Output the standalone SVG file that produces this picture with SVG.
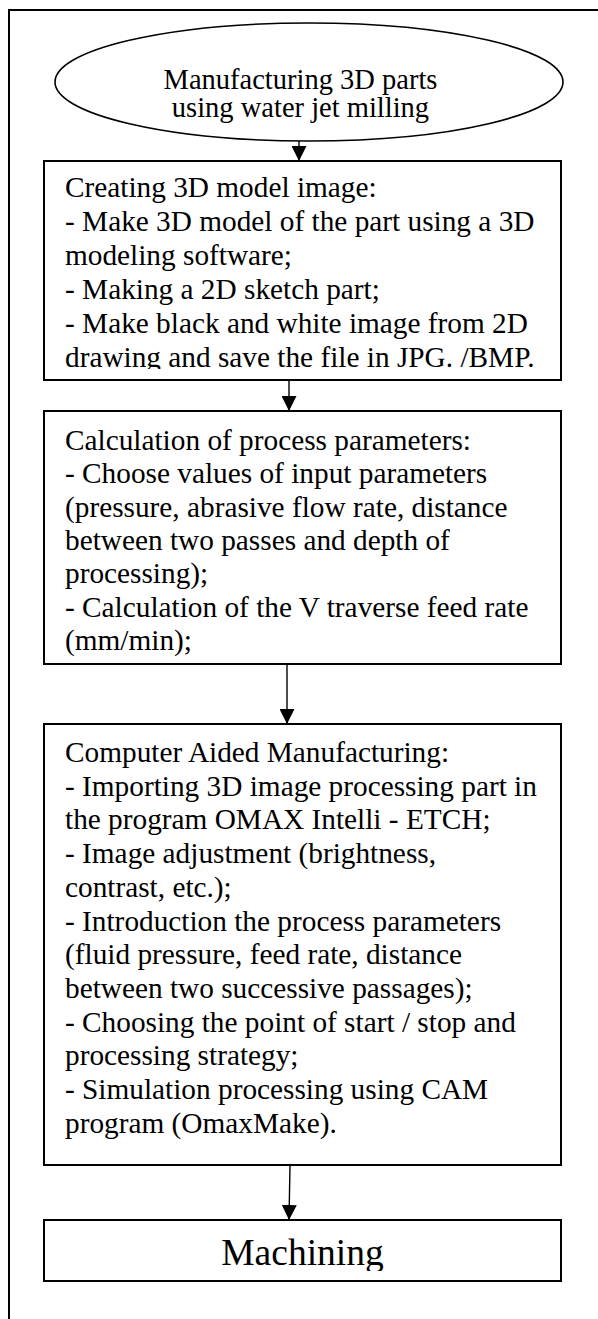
<svg xmlns="http://www.w3.org/2000/svg" width="598" height="1319" viewBox="0 0 598 1319">
<style>
text{font-family:'Liberation Serif','Times New Roman',Times,serif;font-size:29.3px;fill:#000}
.ell{font-size:28.5px}
.big{font-size:37.5px}
.box{fill:#fff;stroke:#000;stroke-width:2}
.conn{stroke:#000;stroke-width:1.4;fill:none}
</style>
<defs>
<marker id="ah" markerUnits="userSpaceOnUse" markerWidth="15" markerHeight="15" refX="15" refY="7.5" orient="auto">
<path d="M0,0 L15,7.5 L0,15 z" fill="#000"/>
</marker>
<clipPath id="c1"><rect x="44" y="161" width="517" height="208"/></clipPath>
<clipPath id="c4"><rect x="44" y="1220" width="517" height="51"/></clipPath>
</defs>
<rect width="598" height="1319" fill="#fff"/>
<path d="M9,1320 V10 H600" fill="none" stroke="#000" stroke-width="2"/>
<g font-family="Liberation Serif, Times New Roman, serif">
<g id="start">
<ellipse cx="309" cy="82" rx="254" ry="59" fill="#fff" stroke="#000" stroke-width="1.6"/>
<text class="ell" x="300.5" y="89" text-anchor="middle">Manufacturing 3D parts</text>
<text class="ell" x="300.5" y="117" text-anchor="middle">using water jet milling</text>
</g>
<g id="model">
<rect class="box" x="44" y="161" width="517" height="219"/>
<g clip-path="url(#c1)">
<text x="65" y="197">Creating 3D model image:</text>
<text x="65" y="231">- Make 3D model of the part using a 3D</text>
<text x="65" y="265">modeling software;</text>
<text x="65" y="299">- Making a 2D sketch part;</text>
<text x="65" y="333">- Make black and white image from 2D</text>
<text x="65" y="367">drawing and save the file in JPG. /BMP.</text>
</g>
</g>
<g id="params">
<rect class="box" x="44" y="411" width="517" height="253"/>
<text x="65" y="450">Calculation of process parameters:</text>
<text x="65" y="483">- Choose values of input parameters</text>
<text x="65" y="516.5">(pressure, abrasive flow rate, distance</text>
<text x="65" y="550">between two passes and depth of</text>
<text x="65" y="583">processing);</text>
<text x="65" y="616.5">- Calculation of the V traverse feed rate</text>
<text x="65" y="650">(mm/min);</text>
</g>
<g id="cam">
<rect class="box" x="44" y="724" width="517" height="441"/>
<text x="65" y="762">Computer Aided Manufacturing:</text>
<text x="65" y="795.7">- Importing 3D image processing part in</text>
<text x="65" y="829.4">the program OMAX Intelli - ETCH;</text>
<text x="65" y="863.1">- Image adjustment (brightness,</text>
<text x="65" y="896.8">contrast, etc.);</text>
<text x="65" y="930.5">- Introduction the process parameters</text>
<text x="65" y="964.2">(fluid pressure, feed rate, distance</text>
<text x="65" y="997.9">between two successive passages);</text>
<text x="65" y="1031.6">- Choosing the point of start / stop and</text>
<text x="65" y="1065.3">processing strategy;</text>
<text x="65" y="1099">- Simulation processing using CAM</text>
<text x="65" y="1132.7">program (OmaxMake).</text>
</g>
<g id="machining">
<rect class="box" x="44" y="1220" width="517" height="61"/>
<g clip-path="url(#c4)">
<text class="big" x="302.5" y="1265" text-anchor="middle">Machining</text>
</g>
</g>
</g>
<g id="connectors">
<line class="conn" x1="299" y1="141" x2="299" y2="161" marker-end="url(#ah)"/>
<line class="conn" x1="289" y1="380" x2="289" y2="411" marker-end="url(#ah)"/>
<line class="conn" x1="287" y1="664" x2="287" y2="724" marker-end="url(#ah)"/>
<line class="conn" x1="290" y1="1165" x2="289" y2="1220" marker-end="url(#ah)"/>
</g>
</svg>
